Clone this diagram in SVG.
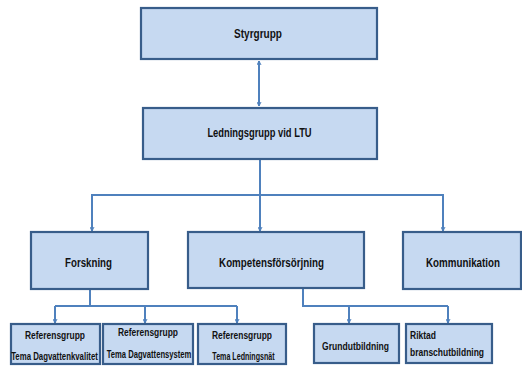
<svg xmlns="http://www.w3.org/2000/svg" width="522" height="366" viewBox="0 0 522 366">
<style>
.box{fill:#C6D9F1;stroke:#385D8A;stroke-width:2.2}
.t{font-family:"Liberation Sans",Arial,sans-serif;font-weight:bold;font-size:13.5px;fill:#111;text-anchor:middle}
.s{font-family:"Liberation Sans",Arial,sans-serif;font-weight:bold;font-size:11.5px;fill:#111;text-anchor:middle}
.l{text-anchor:start}
.c{fill:none;stroke:#4F81BD;stroke-width:2}
</style>
<defs>
<marker id="ah" viewBox="0 0 10 10" refX="9" refY="5" markerWidth="5" markerHeight="5" orient="auto-start-reverse" markerUnits="userSpaceOnUse">
<path d="M1,1 L9,5 L1,9" fill="none" stroke="#4F81BD" stroke-width="2"/>
</marker>
</defs>
<rect width="522" height="366" fill="#fff"/>
<g id="connectors">
<path class="c" d="M259,61 V106" marker-start="url(#ah)" marker-end="url(#ah)"/>
<path class="c" d="M260,160 V231"/>
<path class="c" d="M92,231 V195 H443 V231"/>
<path class="c" d="M92,195 V231" marker-end="url(#ah)"/>
<path class="c" d="M260,195 V231" marker-end="url(#ah)"/>
<path class="c" d="M443,195 V231" marker-end="url(#ah)"/>
<path class="c" d="M90,290 V306 M55,306 H237"/>
<path class="c" d="M55,306 V323" marker-end="url(#ah)"/>
<path class="c" d="M145,306 V323" marker-end="url(#ah)"/>
<path class="c" d="M237,306 V323" marker-end="url(#ah)"/>
<path class="c" d="M303,289 V306 H448"/>
<path class="c" d="M349,306 V323" marker-end="url(#ah)"/>
<path class="c" d="M448,306 V323" marker-end="url(#ah)"/>
</g>
<g id="styrgrupp"><rect class="box" x="141" y="8" width="236" height="51"/><text class="t" transform="translate(258,38) scale(0.744,1)">Styrgrupp</text></g>
<g id="ledningsgrupp"><rect class="box" x="143" y="108" width="234" height="51"/><text class="t" transform="translate(259.5,137) scale(0.693,1)">Ledningsgrupp vid LTU</text></g>
<g id="forskning"><rect class="box" x="31" y="232" width="117" height="57"/><text class="t" transform="translate(88.5,267) scale(0.72,1)">Forskning</text></g>
<g id="kompetens"><rect class="box" x="188" y="232" width="176" height="56"/><text class="t" transform="translate(271.5,267) scale(0.725,1)">Kompetensförsörjning</text></g>
<g id="kommunikation"><rect class="box" x="403" y="232" width="118" height="57"/><text class="t" transform="translate(463,267) scale(0.725,1)">Kommunikation</text></g>
<g id="ref1"><rect class="box" x="11" y="324" width="89" height="40"/><text class="s" transform="translate(55,339) scale(0.733,1)">Referensgrupp</text><text class="s" transform="translate(54.5,360) scale(0.68,1)">Tema Dagvattenkvalitet</text></g>
<g id="ref2"><rect class="box" x="103" y="324" width="90" height="40"/><text class="s" transform="translate(148,336) scale(0.733,1)">Referensgrupp</text><text class="s" transform="translate(149,358) scale(0.665,1)">Tema Dagvattensystem</text></g>
<g id="ref3"><rect class="box" x="198" y="324" width="88" height="40"/><text class="s" transform="translate(242,339) scale(0.733,1)">Referensgrupp</text><text class="s" transform="translate(243.5,360) scale(0.62,1)">Tema Ledningsnät</text></g>
<g id="grundutbildning"><rect class="box" x="314" y="324" width="85" height="39"/><text class="s" transform="translate(355.5,350) scale(0.744,1)">Grundutbildning</text></g>
<g id="riktad"><rect class="box" x="406" y="324" width="86" height="39"/><text class="s l" transform="translate(410,339) scale(0.74,1)">Riktad</text><text class="s l" transform="translate(410,356) scale(0.738,1)">branschutbildning</text></g>
</svg>
